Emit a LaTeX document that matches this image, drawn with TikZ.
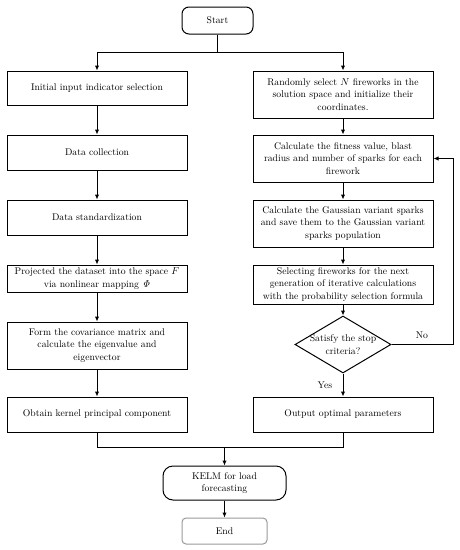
\documentclass[tikz,border=0pt]{standalone}
\usetikzlibrary{shapes.geometric,arrows.meta}
\begin{document}
\begin{tikzpicture}[x=1pt,y=-1pt,
  every node/.style={font=\fontsize{9.7}{12.5}\selectfont},
  box/.style={draw, line width=1pt, minimum width=180pt, align=center, inner sep=2pt},
  term/.style={draw, line width=1pt, rounded corners=7pt, align=center, inner sep=2pt},
  arr/.style={line width=1pt, -{Latex[length=5pt,width=4.5pt]}},
  ln/.style={line width=1pt}]
\useasboundingbox (0,0) rectangle (460,550);
% terminals
\node[term, minimum width=71pt, minimum height=27pt] (start) at (217.5,20.5) {Start};
\node[term, minimum width=123pt, minimum height=34pt, rounded corners=10pt] (kelm) at (224.5,483) {KELM for load\\forecasting};
\node[term, draw=black!40, minimum width=85pt, minimum height=26pt, rounded corners=4pt] (end) at (224.5,531) {End};
% left column
\node[box, minimum height=34pt] (b1) at (97,88) {Initial input indicator selection};
\node[box, minimum height=35pt] (b2) at (97,152.5) {Data collection};
\node[box, minimum height=35pt] (b3) at (97,217.5) {Data standardization};
\node[box, minimum height=27pt] (b4) at (97,278.5) {Projected the dataset into the space $F$\\via nonlinear mapping $\mathit{\Phi}$};
\node[box, minimum height=47pt] (b5) at (97,345.5) {Form the covariance matrix and\\calculate the eigenvalue and\\eigenvector};
\node[box, minimum height=35pt] (b6) at (97,414.5) {Obtain kernel principal component};
% right column
\node[box, minimum height=47pt] (r1) at (343,94.5) {Randomly select $N$ fireworks in the\\solution space and initialize their\\coordinates.};
\node[box, minimum height=47pt] (r2) at (343,158.5) {Calculate the fitness value, blast\\radius and number of sparks for each\\firework};
\node[box, minimum height=47pt] (r3) at (343,223.5) {Calculate the Gaussian variant sparks\\and save them to the Gaussian variant\\sparks population};
\node[box, minimum height=39pt] (r4) at (343,284.5) {Selecting fireworks for the next\\generation of iterative calculations\\with the probability selection formula};
\node[diamond, draw, line width=1pt, minimum width=96pt, minimum height=57pt, inner sep=0pt,
  label={[align=center, font=\fontsize{9.7}{12.5}\selectfont]center:Satisfy the stop\\criteria?}] (d) at (343,344.5) {};
\node[box, minimum height=35pt] (r6) at (343,414.5) {Output optimal parameters};
% labels
\node (no) at (422,335) {No};
\node (yes) at (325,385) {Yes};
% coordinates
\coordinate (split) at (217.5,52);
\coordinate (merge) at (224.5,447);
\coordinate (fb1) at (453,344.5);
\coordinate (fb2) at (453,158.5);
% connectors
\draw[ln] (start) -- (split);
\draw[arr] (split) -| (b1);
\draw[arr] (split) -| (r1);
\draw[arr] (b1) -- (b2);
\draw[arr] (b2) -- (b3);
\draw[arr] (b3) -- (b4);
\draw[arr] (b4) -- (b5);
\draw[arr] (b5) -- (b6);
\draw[arr] (r1) -- (r2);
\draw[arr] (r2) -- (r3);
\draw[arr] (r3) -- (r4);
\draw[arr] (r4) -- (d);
\draw[arr] (d) -- (r6);
\draw[arr] (d.east) -- (fb1) -- (fb2) -- (r2.east);
\draw[ln] (b6) |- (merge);
\draw[ln] (r6) |- (merge);
\draw[arr] (merge) -- (kelm);
\draw[arr] (kelm) -- (end);
\end{tikzpicture}
\end{document}
